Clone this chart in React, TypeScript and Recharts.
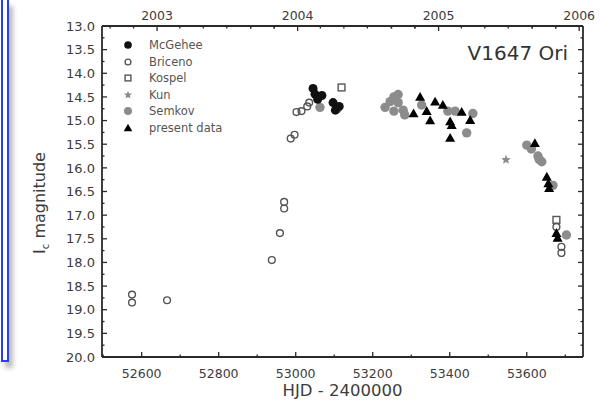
import React from "react";
import { Label, ReferenceLine, Scatter, ScatterChart, XAxis, YAxis } from "recharts";

const FONT = '"DejaVu Sans", Verdana, sans-serif';
const INK = "#2a2a2a";
const TEXT = "#3c3c3c";
const GRAY = "#8c8c8c";

const HJD_RANGE = [52497, 53746];
const MAG_RANGE = [13, 20];

// bottom axis: labelled every 200 d, small ticks in between
const HJD_MAJOR = [52600, 52800, 53000, 53200, 53400, 53600];
const HJD_MINOR = [52500, 52700, 52900, 53100, 53300, 53500, 53700];

const MAG_MAJOR = [13, 13.5, 14, 14.5, 15, 15.5, 16, 16.5, 17, 17.5, 18, 18.5, 19, 19.5, 20];
const MAG_MINOR = [13.25, 13.75, 14.25, 14.75, 15.25, 15.75, 16.25, 16.75, 17.25, 17.75, 18.25, 18.75, 19.25, 19.75];

// top axis: calendar years (Jan 1 in HJD - 2400000) with 2-month ticks
const YEAR_LABELS = ["2003", "2004", "2005", "2006"];
const YEAR_START = [52640, 53005, 53371, 53736];
const MONTH_OFFSETS = [-122, -61, 59, 120, 181, 243, 304];

const mcgehee = [
  { hjd: 53045, mag: 14.32 },
  { hjd: 53050, mag: 14.44 },
  { hjd: 53057, mag: 14.55 },
  { hjd: 53068, mag: 14.47 },
  { hjd: 53097, mag: 14.62 },
  { hjd: 53103, mag: 14.78 },
  { hjd: 53113, mag: 14.7 },
];

const briceno = [
  { hjd: 52575, mag: 18.68 },
  { hjd: 52575, mag: 18.85 },
  { hjd: 52666, mag: 18.8 },
  { hjd: 52938, mag: 17.95 },
  { hjd: 52959, mag: 17.38 },
  { hjd: 52970, mag: 16.72 },
  { hjd: 52970, mag: 16.86 },
  { hjd: 52987, mag: 15.38 },
  { hjd: 52997, mag: 15.3 },
  { hjd: 53002, mag: 14.82 },
  { hjd: 53015, mag: 14.8 },
  { hjd: 53030, mag: 14.7 },
  { hjd: 53035, mag: 14.62 },
  { hjd: 53677, mag: 17.25 },
  { hjd: 53690, mag: 17.67 },
  { hjd: 53690, mag: 17.8 },
];

const kospel = [
  { hjd: 53119, mag: 14.3 },
  { hjd: 53677, mag: 17.1 },
];

const kun = [{ hjd: 53546, mag: 15.83 }];

const semkov = [
  { hjd: 53063, mag: 14.72 },
  { hjd: 53108, mag: 14.75 },
  { hjd: 53232, mag: 14.72 },
  { hjd: 53245, mag: 14.6 },
  { hjd: 53255, mag: 14.5 },
  { hjd: 53266, mag: 14.45 },
  { hjd: 53266, mag: 14.62 },
  { hjd: 53255, mag: 14.8 },
  { hjd: 53279, mag: 14.78 },
  { hjd: 53283, mag: 14.88 },
  { hjd: 53327, mag: 14.67 },
  { hjd: 53395, mag: 14.8 },
  { hjd: 53414, mag: 14.8 },
  { hjd: 53460, mag: 14.85 },
  { hjd: 53444, mag: 15.26 },
  { hjd: 53600, mag: 15.52 },
  { hjd: 53612, mag: 15.6 },
  { hjd: 53629, mag: 15.75 },
  { hjd: 53632, mag: 15.82 },
  { hjd: 53639, mag: 15.87 },
  { hjd: 53668, mag: 16.37 },
  { hjd: 53703, mag: 17.42 },
];

const present = [
  { hjd: 53306, mag: 14.85 },
  { hjd: 53323, mag: 14.5 },
  { hjd: 53340, mag: 14.8 },
  { hjd: 53349, mag: 15.0 },
  { hjd: 53362, mag: 14.6 },
  { hjd: 53382, mag: 14.67 },
  { hjd: 53401, mag: 15.02 },
  { hjd: 53405, mag: 15.1 },
  { hjd: 53401, mag: 15.37 },
  { hjd: 53431, mag: 14.82 },
  { hjd: 53453, mag: 14.99 },
  { hjd: 53621, mag: 15.48 },
  { hjd: 53652, mag: 16.19 },
  { hjd: 53656, mag: 16.33 },
  { hjd: 53658, mag: 16.43 },
  { hjd: 53677, mag: 17.38 },
  { hjd: 53680, mag: 17.48 },
];

const LEGEND_ITEMS = [
  { name: "McGehee", kind: "dot" },
  { name: "Briceno", kind: "ring" },
  { name: "Kospel", kind: "square" },
  { name: "Kun", kind: "star" },
  { name: "Semkov", kind: "gray" },
  { name: "present data", kind: "triangle" },
];

const TOP_TICKS = [...YEAR_START, ...YEAR_START.flatMap((y) => MONTH_OFFSETS.map((m) => y + m))]
  .filter((v) => v >= HJD_RANGE[0] && v <= HJD_RANGE[1])
  .sort((a, b) => a - b);

function starPath(cx: number, cy: number, r: number) {
  let d = "";
  for (let i = 0; i < 10; i++) {
    const rr = i % 2 === 0 ? r : r * 0.45;
    const a = -Math.PI / 2 + (i * Math.PI) / 5;
    d += `${i === 0 ? "M" : "L"}${cx + rr * Math.cos(a)},${cy + rr * Math.sin(a)}`;
  }
  return d + "Z";
}

function Marker({ kind, cx, cy, s = 1 }: { kind: string; cx: number; cy: number; s?: number }) {
  switch (kind) {
    case "dot":
      return <circle cx={cx} cy={cy} r={4.5 * s} fill="#111" />;
    case "ring":
      return <circle cx={cx} cy={cy} r={3.4 * s} fill="none" stroke="#555" strokeWidth={1.4} />;
    case "square":
      return (
        <rect x={cx - 3.4 * s} y={cy - 3.4 * s} width={6.8 * s} height={6.8 * s} fill="none" stroke="#555" strokeWidth={1.4} />
      );
    case "star":
      return <path d={starPath(cx, cy, 5 * s)} fill={GRAY} />;
    case "gray":
      return <circle cx={cx} cy={cy} r={4.7 * s} fill={GRAY} />;
    default:
      return (
        <path
          d={`M${cx},${cy - 5 * s}L${cx + 5 * s},${cy + 3.8 * s}L${cx - 5 * s},${cy + 3.8 * s}Z`}
          fill="#000"
        />
      );
  }
}

const shapeOf = (kind: string) => (p: any) => <Marker kind={kind} cx={p.cx} cy={p.cy} />;

function BottomTick({ x, y, payload }: any) {
  const major = HJD_MAJOR.includes(payload.value);
  return (
    <g>
      <line x1={x} x2={x} y1={y} y2={y - (major ? 5 : 2.5)} stroke={INK} strokeWidth={1.3} />
      {major && (
        <text x={x} y={y + 21} textAnchor="middle" fontSize={12.5} fill={TEXT} fontFamily={FONT}>
          {payload.value}
        </text>
      )}
    </g>
  );
}

function TopTick({ x, y, payload }: any) {
  const idx = YEAR_START.indexOf(payload.value);
  return (
    <g>
      <line x1={x} x2={x} y1={y} y2={y + (idx >= 0 ? 5 : 2.5)} stroke={INK} strokeWidth={1.3} />
      {idx >= 0 && (
        <text x={x} y={y - 6} textAnchor="middle" fontSize={12.5} fill={TEXT} fontFamily={FONT}>
          {YEAR_LABELS[idx]}
        </text>
      )}
    </g>
  );
}

function LeftTick({ x, y, payload }: any) {
  const major = MAG_MAJOR.includes(payload.value);
  return (
    <g>
      <line x1={x} x2={x + (major ? 5 : 2.5)} y1={y} y2={y} stroke={INK} strokeWidth={1.3} />
      {major && (
        <text x={x - 7} y={y} dy="0.36em" textAnchor="end" fontSize={13} fill={TEXT} fontFamily={FONT}>
          {payload.value.toFixed(1)}
        </text>
      )}
    </g>
  );
}

function RightTick({ x, y, payload }: any) {
  const major = MAG_MAJOR.includes(payload.value);
  return <line x1={x} x2={x - (major ? 5 : 2.5)} y1={y} y2={y} stroke={INK} strokeWidth={1.3} />;
}

function YTitle() {
  return (
    <text transform="translate(45,203) rotate(-90)" textAnchor="middle" fontSize={16} fill={TEXT} fontFamily={FONT}>
      <tspan>I</tspan>
      <tspan fontSize={10} dy={4}>
        c
      </tspan>
      <tspan dy={-4}> magnitude</tspan>
    </text>
  );
}

function LegendBox() {
  return (
    <div style={{ position: "absolute", left: 121, top: 37, fontFamily: FONT, pointerEvents: "none" }}>
      {LEGEND_ITEMS.map((it) => (
        <div key={it.name} style={{ display: "flex", alignItems: "center", height: 16.5 }}>
          <svg width={14} height={14}>
            <Marker kind={it.kind} cx={7} cy={7} s={0.85} />
          </svg>
          <span style={{ marginLeft: 14, fontSize: 11.5, color: "#555" }}>{it.name}</span>
        </div>
      ))}
    </div>
  );
}

export default function App() {
  const axisLine = { stroke: INK, strokeWidth: 1.8 };
  return (
    <div style={{ position: "absolute", left: 0, top: 0, width: 601, height: 401, background: "#fff" }}>
      {/* blue frame remnant on the left edge of the scan */}
      <div
        style={{
          position: "absolute",
          left: 1,
          top: 0,
          width: 4,
          height: 360,
          borderLeft: "2px solid #2a3cff",
          borderRight: "2px solid #2a3cff",
          borderBottom: "2px solid #2a3cff",
          boxShadow: "4px 6px 5px #bbb",
        }}
      />
      <ScatterChart width={601} height={401} margin={{ top: 6, right: 0, bottom: 0, left: 0 }}>
        <XAxis
          xAxisId="b"
          dataKey="hjd"
          type="number"
          domain={HJD_RANGE}
          allowDataOverflow
          ticks={[...HJD_MAJOR, ...HJD_MINOR].sort((a, b) => a - b)}
          interval={0}
          tickSize={0}
          tickMargin={0}
          height={44}
          axisLine={axisLine}
          tick={BottomTick}
        >
          <Label value="HJD - 2400000" position="insideBottom" offset={5} fontSize={16.5} fill={TEXT} fontFamily={FONT} />
        </XAxis>
        <XAxis
          xAxisId="t"
          orientation="top"
          dataKey="hjd"
          type="number"
          domain={HJD_RANGE}
          allowDataOverflow
          ticks={TOP_TICKS}
          interval={0}
          tickSize={0}
          tickMargin={0}
          height={20}
          axisLine={axisLine}
          tick={TopTick}
        />
        <YAxis
          yAxisId="l"
          dataKey="mag"
          type="number"
          domain={MAG_RANGE}
          reversed
          allowDataOverflow
          ticks={[...MAG_MAJOR, ...MAG_MINOR].sort((a, b) => a - b)}
          interval={0}
          tickSize={0}
          tickMargin={0}
          width={102}
          axisLine={axisLine}
          tick={LeftTick}
          label={<YTitle />}
        />
        <YAxis
          yAxisId="r"
          orientation="right"
          dataKey="mag"
          type="number"
          domain={MAG_RANGE}
          reversed
          allowDataOverflow
          ticks={[...MAG_MAJOR, ...MAG_MINOR].sort((a, b) => a - b)}
          interval={0}
          tickSize={0}
          tickMargin={0}
          width={18}
          axisLine={axisLine}
          tick={RightTick}
        />
        {/* top frame edge */}
        <ReferenceLine xAxisId="b" yAxisId="l" y={MAG_RANGE[0]} stroke={INK} strokeWidth={1.8} />
        <Scatter name="Semkov" xAxisId="b" yAxisId="l" data={semkov} shape={shapeOf("gray")} isAnimationActive={false} />
        <Scatter name="Kun" xAxisId="b" yAxisId="l" data={kun} shape={shapeOf("star")} isAnimationActive={false} />
        <Scatter name="Briceno" xAxisId="b" yAxisId="l" data={briceno} shape={shapeOf("ring")} isAnimationActive={false} />
        <Scatter name="Kospel" xAxisId="b" yAxisId="l" data={kospel} shape={shapeOf("square")} isAnimationActive={false} />
        <Scatter name="McGehee" xAxisId="b" yAxisId="l" data={mcgehee} shape={shapeOf("dot")} isAnimationActive={false} />
        <Scatter name="present data" xAxisId="b" yAxisId="l" data={present} shape={shapeOf("triangle")} isAnimationActive={false} />
        <Scatter xAxisId="t" yAxisId="r" data={[]} legendType="none" isAnimationActive={false} />
      </ScatterChart>
      <LegendBox />
      <div
        style={{
          position: "absolute",
          right: 33,
          top: 41,
          fontFamily: FONT,
          fontSize: 20,
          color: "#333",
          pointerEvents: "none",
        }}
      >
        V1647 Ori
      </div>
    </div>
  );
}
